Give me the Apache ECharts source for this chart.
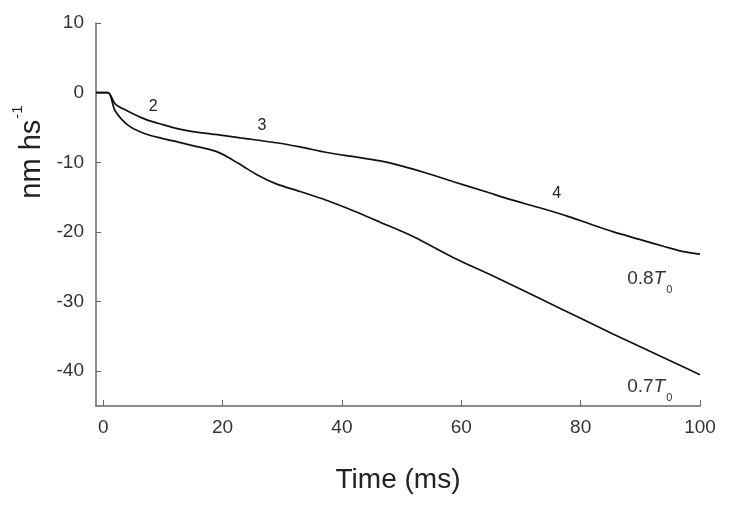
<!DOCTYPE html>
<html>
<head>
<meta charset="utf-8">
<script src="https://cdn.jsdelivr.net/npm/echarts@6/dist/echarts.min.js"></script>
<style>html,body{margin:0;padding:0;background:#fff}#c{width:732px;height:505px}</style>
</head>
<body>
<div id="c"></div>
<script>
// ---- data ----
var time08 = [-1.2, 0.8, 2, 4, 7, 10, 12.6, 15, 18.8, 23, 29, 33, 37.5, 42, 46.4, 49, 54, 58.7, 64, 68, 73, 78, 82, 85.5, 90, 94, 97, 100];
var val08  = [0, 0, -1.6, -2.6, -3.8, -4.6, -5.2, -5.6, -6.0, -6.5, -7.2, -7.8, -8.6, -9.2, -9.8, -10.3, -11.5, -12.8, -14.2, -15.3, -16.5, -17.8, -19.0, -20.0, -21.1, -22.1, -22.8, -23.2];
var time07 = [-1.2, 0.8, 2, 4.2, 7, 10, 12.6, 15, 18.8, 21, 23.5, 26, 29, 33, 37.5, 42, 46.4, 52, 58.7, 65, 73, 80, 85.5, 90, 95, 100];
var val07  = [0, 0, -2.6, -4.7, -5.9, -6.6, -7.1, -7.6, -8.4, -9.3, -10.6, -11.9, -13.1, -14.2, -15.5, -17.0, -18.6, -20.7, -23.7, -26.2, -29.5, -32.4, -34.7, -36.5, -38.5, -40.5];
var xTicks = [0, 20, 40, 60, 80, 100];
var yTicks = [10, 0, -10, -20, -30, -40];
var numText = ['2', '3', '4'];
var numX = [8.4, 26.6, 76.0];
var numY = [-1.95, -4.7, -14.5];
var tensionText = ['{n|0.8}{t|T}{s|0}', '{n|0.7}{t|T}{s|0}'];
var tensionX = [87.8, 87.8];
var tensionY = [-26.7, -42.2];

function pairs(xs, ys) { return xs.map(function (x, i) { return [x, ys[i]]; }); }

var font = '"Liberation Sans", Arial, sans-serif';
var rich = {
  n: { fontSize: 19, color: '#333', fontFamily: font, lineHeight: 34, verticalAlign: 'middle' },
  t: { fontSize: 19, color: '#333', fontFamily: font, fontStyle: 'italic', lineHeight: 34, verticalAlign: 'middle' },
  s: { fontSize: 11, color: '#333', fontFamily: font, lineHeight: 11, verticalAlign: 'bottom', padding: [0, 0, 0, 1] }
};
var numData = numText.map(function (t, i) {
  return { coord: [numX[i], numY[i]], value: t,
    label: { show: true, position: 'inside', formatter: t, fontSize: 16, color: '#222', fontFamily: font } };
});
var tensionData = tensionText.map(function (t, i) {
  return { coord: [tensionX[i], tensionY[i]], value: t,
    label: { show: true, position: 'right', distance: 0, formatter: t, rich: rich } };
});

var chart = echarts.init(document.getElementById('c'), null, { renderer: 'canvas' });
chart.setOption({
  animation: false,
  backgroundColor: '#fff',
  grid: { left: 96, right: 32, top: 23, bottom: 99 },
  xAxis: {
    type: 'value', min: -1.2, max: 100,
    name: 'Time (ms)', nameLocation: 'middle', nameGap: 60,
    nameTextStyle: { fontSize: 28, color: '#222', fontFamily: font },
    axisLine: { show: true, onZero: false, lineStyle: { color: '#666', width: 1.5 } },
    axisTick: { show: true, inside: true, length: 6, customValues: xTicks, lineStyle: { color: '#666' } },
    axisLabel: { customValues: xTicks, margin: 12, fontSize: 19, color: '#333', fontFamily: font },
    splitLine: { show: false }
  },
  yAxis: {
    type: 'value', min: -45, max: 10,
    axisLine: { show: true, onZero: false, lineStyle: { color: '#666', width: 1.5 } },
    axisTick: { show: true, inside: true, length: 5, customValues: yTicks, lineStyle: { color: '#666' } },
    axisLabel: { customValues: yTicks, margin: 12, fontSize: 19, color: '#333', fontFamily: font },
    splitLine: { show: false }
  },
  graphic: [{
    type: 'text', x: 32, y: 152, rotation: Math.PI / 2,
    style: {
      text: '{a|nm hs}{b|-1}', align: 'center', verticalAlign: 'middle',
      rich: {
        a: { fontSize: 29, fill: '#222', fontFamily: font, lineHeight: 44, verticalAlign: 'middle' },
        b: { fontSize: 15, fill: '#222', fontFamily: font, lineHeight: 15, verticalAlign: 'top', padding: [0, 0, 0, 1] }
      }
    }
  }],
  series: [{
    type: 'line', name: '0.8T0', data: pairs(time08, val08), showSymbol: false, smooth: 0.3,
    lineStyle: { color: '#111', width: 1.7 },
    markPoint: {
      symbol: 'circle', symbolSize: 0, silent: true,
      data: numData.concat(tensionData)
    }
  }, {
    type: 'line', name: '0.7T0', data: pairs(time07, val07), showSymbol: false, smooth: 0.3,
    lineStyle: { color: '#111', width: 1.7 }
  }]
});
</script>
</body>
</html>
